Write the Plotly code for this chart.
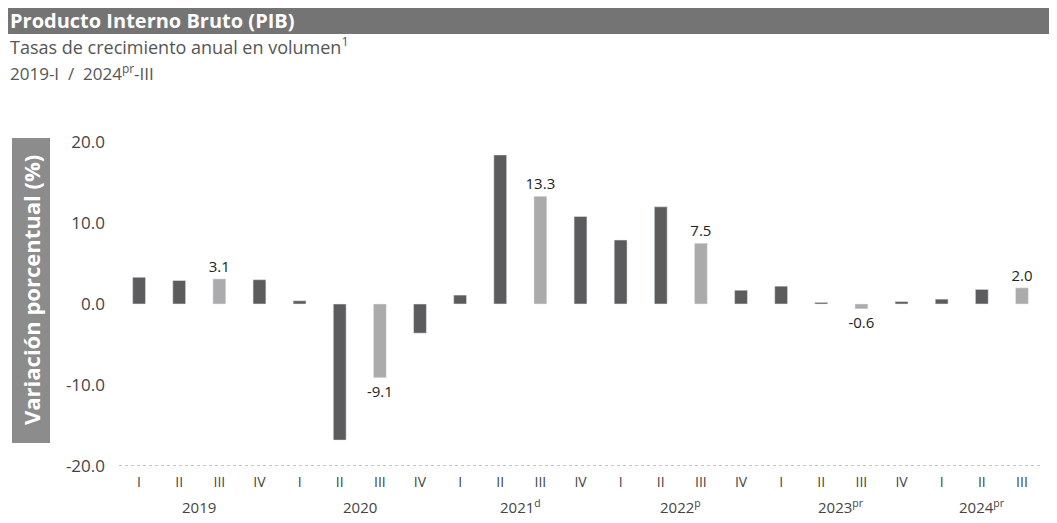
import plotly.graph_objects as go

years = ["2019", "2020", "2021", "2022", "2023", "2024"]
year_labels = ["2019", "2020", "2021<sup>d</sup>", "2022<sup>p</sup>", "2023<sup>pr</sup>", "2024<sup>pr</sup>"]
quarters = ["I", "II", "III", "IV"]
values = [
    3.3, 2.9, 3.1, 3.0,      # 2019
    0.4, -16.8, -9.1, -3.6,  # 2020
    1.1, 18.4, 13.3, 10.8,   # 2021
    7.9, 12.0, 7.5, 1.7,     # 2022
    2.2, 0.2, -0.6, 0.3,     # 2023
    0.6, 1.8, 2.0,           # 2024
]

cats, qlab, yr = [], [], []
for y in years:
    for q in quarters:
        if len(cats) < len(values):
            cats.append(f"{y}-{q}")
            qlab.append(q)
            yr.append(y)

dark_x = [c for c, q in zip(cats, qlab) if q != "III"]
dark_y = [v for v, q in zip(values, qlab) if q != "III"]
light_x = [c for c, q in zip(cats, qlab) if q == "III"]
light_y = [v for v, q in zip(values, qlab) if q == "III"]

# plot area (figure pixels); page has an 8px body margin
L, T, W, H = 111, 134, 923, 324
FW, FH = 1057, 523
OFF = 8


def px(rx):
    return (rx - OFF - L) / W


def py(ry):
    return 1 - (ry - OFF - T) / H


fig = go.Figure()
fig.add_trace(go.Bar(x=dark_x, y=dark_y, marker_color="#5c5c5c", width=0.32,
                     hoverinfo="x+y"))
fig.add_trace(go.Bar(x=light_x, y=light_y, marker_color="#ababab", width=0.32,
                     text=[f"{v:.1f}" for v in light_y], textposition="outside",
                     constraintext="none",
                     textfont=dict(family="Open Sans", size=15, color="#222"),
                     cliponaxis=False))

fig.update_layout(
    width=FW, height=FH,
    margin=dict(l=L, r=FW - L - W, t=T, b=FH - T - H),
    paper_bgcolor="white", plot_bgcolor="white",
    barmode="overlay", showlegend=False,
    font=dict(family="Open Sans", color="#444"),
    xaxis=dict(type="category", categoryorder="array", categoryarray=cats,
               tickvals=cats, ticktext=qlab, showgrid=False, zeroline=False,
               showline=False, ticks="", ticklabelstandoff=6,
               tickfont=dict(size=14, color="#444"),
               range=[-0.5, len(cats) - 0.5]),
    yaxis=dict(range=[-20, 20], tickvals=[-20, -10, 0, 10, 20],
               ticktext=["-20.0", "-10.0", "0.0", "10.0", "20.0"],
               showgrid=False, zeroline=False, showline=False, ticks="",
               ticklabelstandoff=13, tickfont=dict(size=17, color="#444")),
)

# dotted baseline at -20
fig.add_shape(type="line", xref="paper", yref="y", x0=0, x1=1, y0=-20, y1=-20,
              line=dict(color="#888", width=1, dash="dot"))

# year labels centred under their quarters
for y, lab in zip(years, year_labels):
    idx = [i for i, yy in enumerate(yr) if yy == y]
    center = (idx[0] + idx[-1]) / 2
    fig.add_annotation(x=center, xref="x", y=py(507), yref="paper", text=lab,
                       showarrow=False, font=dict(size=15, color="#444"),
                       yanchor="middle")

# title bar
fig.add_shape(type="rect", xref="paper", yref="paper", x0=px(0), x1=px(1070),
              y0=py(34), y1=py(2),
              fillcolor="#747474", line_width=0, layer="below")
fig.add_annotation(xref="paper", yref="paper", x=px(9), y=py(20),
                   text="<b>Producto Interno Bruto (PIB)</b>", showarrow=False,
                   xanchor="left", yanchor="middle", borderpad=0,
                   font=dict(size=20, color="white"))
fig.add_annotation(xref="paper", yref="paper", x=px(9), y=py(46),
                   text="Tasas de crecimiento anual en volumen<sup>1</sup>", showarrow=False,
                   xanchor="left", yanchor="middle", borderpad=0,
                   font=dict(size=18, color="#555"))
fig.add_annotation(xref="paper", yref="paper", x=px(9), y=py(73),
                   text="2019-I  /  2024<sup>pr</sup>-III", showarrow=False,
                   xanchor="left", yanchor="middle", borderpad=0,
                   font=dict(size=17, color="#555"))

# y-axis title box
fig.add_shape(type="rect", xref="paper", yref="paper",
              x0=px(12), x1=px(50), y0=py(443), y1=py(138),
              fillcolor="#8c8c8c", line_width=0)
fig.add_annotation(xref="paper", yref="paper", x=px(31), y=py(290),
                   text="<b>Variación porcentual (%)</b>",
                   textangle=-90, showarrow=False, xanchor="center", yanchor="middle",
                   font=dict(size=22, color="white"))

fig.write_html("out.html")
